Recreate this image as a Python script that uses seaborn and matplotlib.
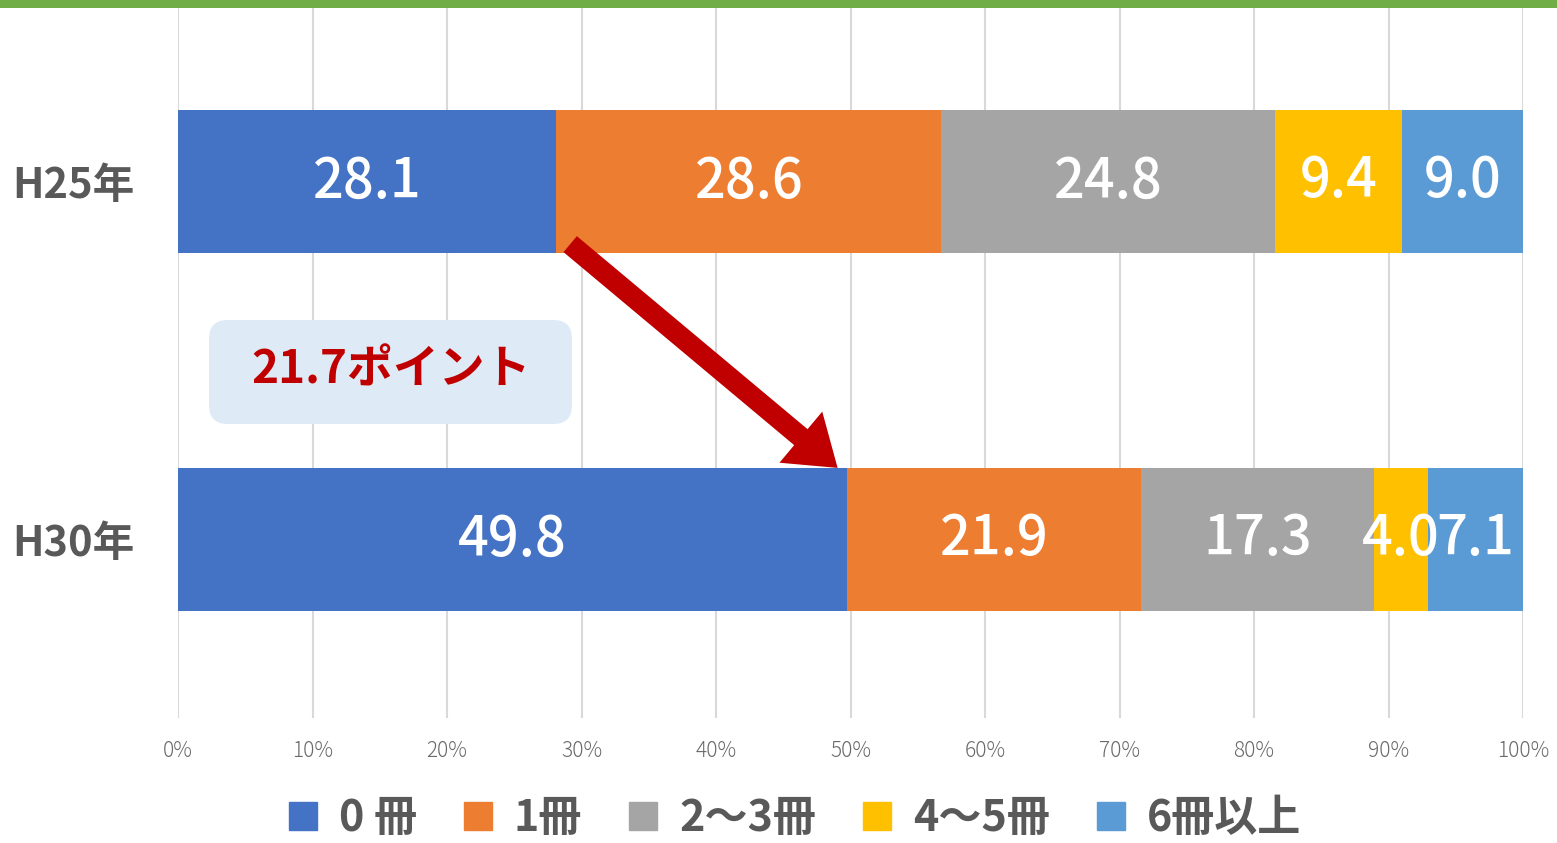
import numpy as np
import pandas as pd
import matplotlib.pyplot as plt
import seaborn as sns
from matplotlib.patches import FancyBboxPatch, Rectangle, FancyArrowPatch

# ---- données ----
years = ["H25年", "H30年"]
categories = ["0 冊", "1冊", "2〜3冊", "4〜5冊", "6冊以上"]
h25 = [28.1, 28.6, 24.8, 9.4, 9.0]
h30 = [49.8, 21.9, 17.3, 4.0, 7.1]
colors = ["#4472C4", "#ED7D31", "#A5A5A5", "#FFC000", "#5B9BD5"]
xticks = [0, 10, 20, 30, 40, 50, 60, 70, 80, 90, 100]
annot_text = "21.7ポイント"

sns.set_theme(style="white")
plt.rcParams["font.family"] = ["Noto Sans CJK JP", "DejaVu Sans"]

vals = np.array([h25, h30])
pct = vals / vals.sum(axis=1, keepdims=True) * 100  # 100% empilé
cum = pct.cumsum(axis=1)

fig = plt.figure(figsize=(15.57, 8.43), dpi=100)
ax = fig.add_axes([178 / 1557, 1 - 718 / 843, 1345 / 1557, 710 / 843])

# bande verte en haut
fig.add_artist(Rectangle((0, 1 - 8 / 843), 1, 8 / 843, transform=fig.transFigure,
                         color="#70AD47", lw=0))

# barres empilées : on dessine les cumuls du plus grand au plus petit
for i in reversed(range(len(categories))):
    df = pd.DataFrame({"year": years, "val": cum[:, i]})
    sns.barplot(data=df, x="val", y="year", orient="h", color=colors[i],
                width=0.4, linewidth=0, saturation=1, ax=ax, zorder=2)

# étiquettes de valeurs
for r in range(len(years)):
    for i in range(len(categories)):
        ax.text(cum[r, i] - pct[r, i] / 2, r, f"{vals[r, i]:.1f}", ha="center",
                va="center", color="white", fontsize=39, fontweight="medium", zorder=5)

ax.set_xlim(0, 100)
ax.set_ylim(1.4986, -0.4846)
ax.set_xticks(xticks)
ax.set_xticklabels([f"{t}%" for t in xticks], fontsize=15, color="#6A6A6A",
                   fontweight="light")
ax.set_yticks(range(len(years)))
ax.set_yticklabels(years, fontsize=30, fontweight="bold", color="#595959")
ax.tick_params(axis="x", length=0, pad=16)
ax.tick_params(axis="y", length=0, pad=31)
ax.set_xlabel("")
ax.set_ylabel("")
ax.xaxis.grid(True, color="#D9D9D9", linewidth=1.5, zorder=0)
ax.set_axisbelow(True)
for s in ax.spines.values():
    s.set_visible(False)

# flèche rouge
arrow = FancyArrowPatch((h25[0] + 0.9, 0.17), (h30[0] - 0.6, 0.805),
                        arrowstyle="simple,head_width=3.2,head_length=2.3,tail_width=1.0",
                        mutation_scale=15, color="#C00000", lw=0, zorder=6)
ax.add_patch(arrow)

# encadré "21.7ポイント"
box = FancyBboxPatch((209 / 1557, 1 - 424 / 843), 363 / 1557, 104 / 843,
                     boxstyle="round,pad=0,rounding_size=0.012",
                     transform=fig.transFigure, facecolor="#DEEAF6", edgecolor="none",
                     mutation_aspect=1557 / 843, zorder=7)
fig.add_artist(box)
fig.text(391 / 1557, 1 - 370 / 843, annot_text, ha="center", va="center",
         fontsize=33, fontweight="bold", color="#C00000", zorder=8)

# légende
handles = [Rectangle((0, 0), 1, 1, color=c) for c in colors]
fig.legend(handles, categories, loc="center", bbox_to_anchor=(795 / 1557, 1 - 818 / 843),
           ncol=5, frameon=False, handlelength=0.65, handleheight=0.65,
           handletextpad=0.5, columnspacing=1.1,
           prop={"size": 31, "weight": "bold"}, labelcolor="#595959")

fig.savefig("out.png", dpi=100)
plt.close()
